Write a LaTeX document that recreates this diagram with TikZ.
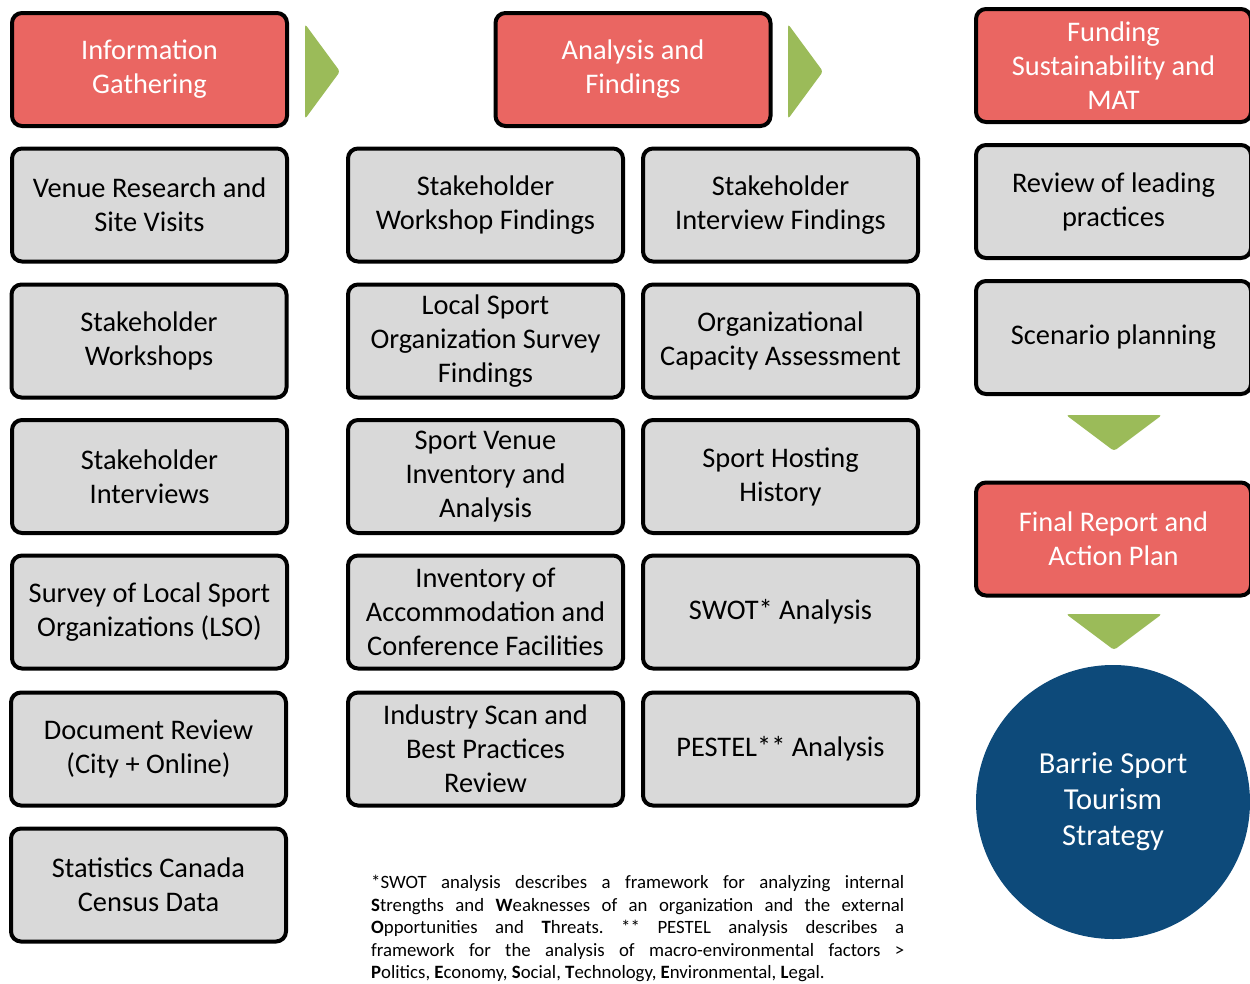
\documentclass[tikz,border=0pt]{standalone}
\usepackage{fontspec}
\setmainfont{Carlito}
\frenchspacing
\definecolor{hdrred}{HTML}{EA6662}
\definecolor{boxgray}{HTML}{D9D9D9}
\definecolor{chevgreen}{HTML}{9BBB59}
\definecolor{circblue}{HTML}{0D4A7A}
\begin{document}
\begin{tikzpicture}[x=1pt,y=-1pt,
  basebox/.style={draw=black, line width=4pt, rounded corners=10pt, minimum width=275pt, minimum height=113pt, align=center, inner sep=2pt, font=\fontsize{28.4}{34}\selectfont},
  gbox/.style={basebox, fill=boxgray, text=black},
  hbox/.style={basebox, fill=hdrred, text=white},
  chev/.style={fill=chevgreen, rounded corners=3pt},
  circ/.style={circle, fill=circblue, minimum size=274pt, text=white, align=center, font=\fontsize{30.5}{36}\selectfont},
  note/.style={text width=533pt, align=justify, inner sep=0pt, anchor=north west, font=\fontsize{18.8}{22.6}\selectfont}
]
\useasboundingbox (0,0) rectangle (1250,983);
% column 1
\node[hbox] (h1) at (149.5,69.5) {Information\\Gathering};
\node[gbox] (a1) at (149.5,205) {Venue Research and\\Site Visits};
\node[gbox] (a2) at (149,341) {Stakeholder\\Workshops};
\node[gbox] (a3) at (149.5,476.5) {Stakeholder\\Interviews};
\node[gbox] (a4) at (149.5,612) {Survey of Local Sport\\Organizations (LSO)};
\node[gbox] (a5) at (148.5,749) {Document Review\\(City + Online)};
\node[gbox] (a6) at (148.5,885) {Statistics Canada\\Census Data};
% column 2
\node[hbox] (h2) at (633,69.5) {Analysis and\\Findings};
\node[gbox] (b1) at (485.5,205) {Stakeholder\\Workshop Findings};
\node[gbox] (b2) at (485.5,341) {Local Sport\\Organization Survey\\Findings};
\node[gbox] (b3) at (485.5,476.5) {Sport Venue\\Inventory and\\Analysis};
\node[gbox] (b4) at (485.5,612) {Inventory of\\Accommodation and\\Conference Facilities};
\node[gbox] (b5) at (485.5,749) {Industry Scan and\\Best Practices\\Review};
% column 3
\node[gbox] (c1) at (780.5,205) {Stakeholder\\Interview Findings};
\node[gbox] (c2) at (780.5,341) {Organizational\\Capacity Assessment};
\node[gbox] (c3) at (780.5,476.5) {Sport Hosting\\History};
\node[gbox] (c4) at (780.5,612) {SWOT* Analysis};
\node[gbox] (c5) at (780.5,749) {PESTEL** Analysis};
% column 4
\node[hbox] (h3) at (1113.5,65.5) {Funding\\Sustainability and\\MAT};
\node[gbox] (d1) at (1113.5,201.5) {Review of leading\\practices};
\node[gbox] (d2) at (1113.5,337.5) {Scenario planning};
\node[hbox] (d3) at (1113.5,539) {Final Report and\\Action Plan};
\node[circ] (goal) at (1113,802) {Barrie Sport\\Tourism\\Strategy};
% chevrons
\fill[chev] (305,24) -- (340,71.5) -- (305,119) -- cycle;
\fill[chev] (788,24) -- (823,71.5) -- (788,119) -- cycle;
\fill[chev] (1066,415) -- (1162,415) -- (1114,451) -- cycle;
\fill[chev] (1066,614) -- (1162,614) -- (1114,650) -- cycle;
% footnote
\node[note] (fn) at (371,875) {*SWOT analysis describes a framework for analyzing internal\linebreak \textbf{S}trengths and \textbf{W}eaknesses of an organization and the external\linebreak \textbf{O}pportunities and \textbf{T}hreats. ** PESTEL analysis describes a\linebreak framework for the analysis of macro-environmental factors >\linebreak \textbf{P}olitics, \textbf{E}conomy, \textbf{S}ocial, \textbf{T}echnology, \textbf{E}nvironmental, \textbf{L}egal.};
\end{tikzpicture}
\end{document}
